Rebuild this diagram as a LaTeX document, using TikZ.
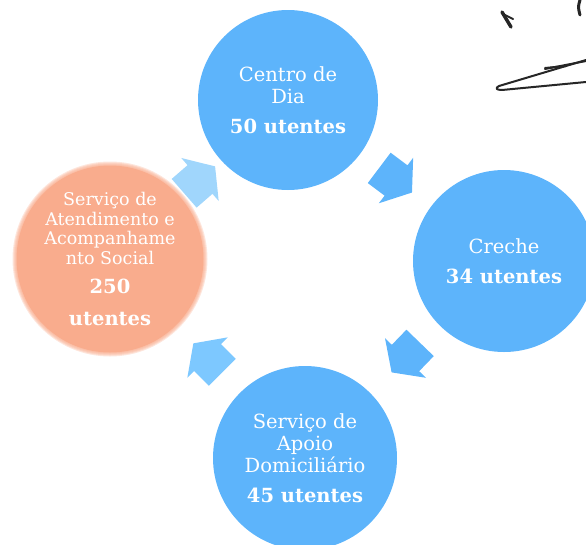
\documentclass[tikz,border=0pt]{standalone}
\usepackage{fontspec}
\setmainfont{DejaVu Serif}
\definecolor{bluec}{HTML}{5DB4FB}
\definecolor{lightarr}{HTML}{A0D6FC}
\definecolor{midarr}{HTML}{7DC8FF}
\definecolor{orangec}{HTML}{F9AC8D}
\definecolor{inkc}{HTML}{262626}
\newcommand{\bignum}[1]{{\fontsize{19.5}{24}\selectfont\bfseries #1}}
\begin{document}
\begin{tikzpicture}[x=1pt,y=-1pt,
  bubble/.style={circle,fill=bluec,text=white,align=center,inner sep=0pt,minimum size=#1},
  regtext/.style={font=\fontsize{19.5}{22}\selectfont},
  smalltext/.style={font=\fontsize{17.5}{19.5}\selectfont},
  barrow/.pic={\fill[#1] (-21,-19) -- (0,-19) -- (0,-28.5) -- (20,0) -- (0,28.5) -- (0,19) -- (-21,19) -- cycle;},
  ink/.style={draw=inkc,line width=2pt,line cap=round,line join=round}
]
\useasboundingbox (0,0) rectangle (586,544);
\clip (0,0) rectangle (586,544);

% soft halo of the orange circle
\coordinate (oc) at (110,259);
\foreach \r in {97.5,96.5,95.5,94.5}
  \fill[orangec,opacity=0.3] (oc) circle (\r);

\node[bubble=180,regtext] (centro) at (288,100)
  {Centro de\\Dia\\[8pt]\bignum{50 utentes}};
\node[bubble=182,regtext] (creche) at (504,261)
  {Creche\\[8pt]\bignum{34 utentes}};
\node[bubble=184,regtext] (apoio) at (305,458)
  {Serviço de\\Apoio\\Domiciliário\\[8pt]\bignum{45 utentes}};
\node[bubble=187,smalltext,fill=orangec] (social) at (oc)
  {Serviço de\\Atendimento e\\Acompanhame\\nto Social\\[10pt]\bignum{250}\\[12pt]\bignum{utentes}};

% block arrows of the cycle
\pic[rotate=41]   (arrA) at (200,179.5) {barrow=lightarr};
\pic[rotate=-37]  (arrB) at (396,180.5) {barrow=bluec};
\pic[rotate=-134] (arrC) at (405.5,358) {barrow=bluec};
\pic[rotate=135]  (arrD) at (207.5,357.5) {barrow=midarr};

% hand-drawn marks, top right
\draw[ink,line width=3.5pt] (502,12) -- (511,27);
\draw[ink] (505,15) -- (513,19);
\draw[ink,line width=3pt] (580,0) .. controls (578,7) .. (580,15);
\draw[ink] (586,60) -- (499,86) .. controls (495,88) and (496,90) .. (502,90) -- (586,82);
\draw[ink] (545,69) -- (586,61);
\draw[ink] (545,68) -- (566,66);
\end{tikzpicture}
\end{document}
